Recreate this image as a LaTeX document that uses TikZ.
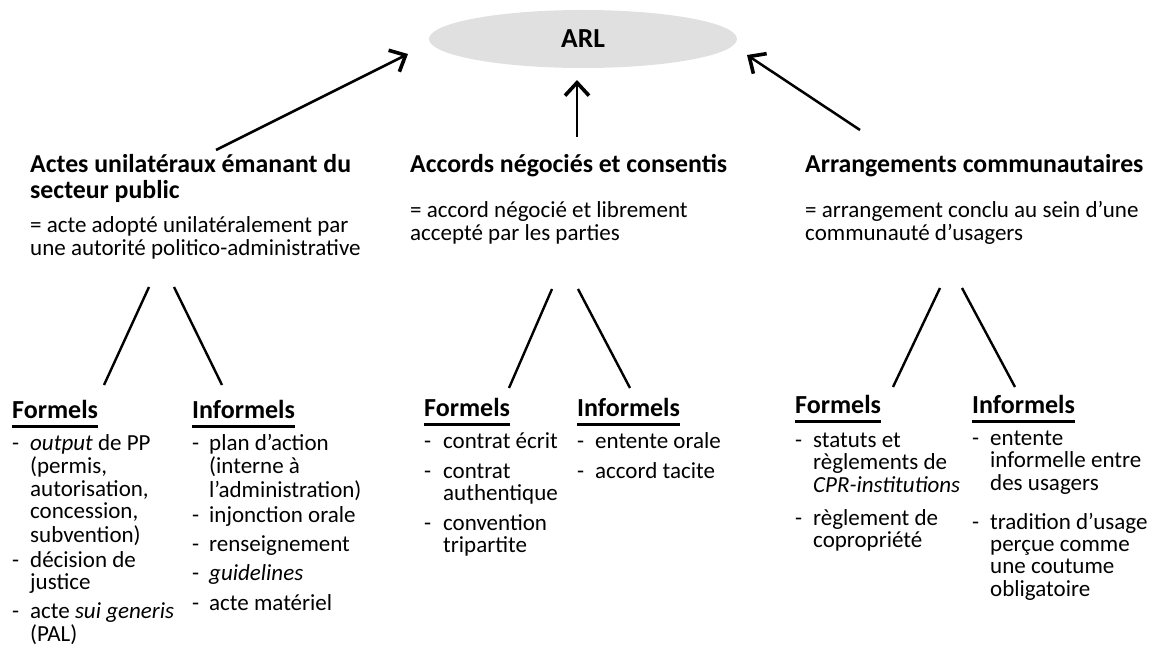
\documentclass[tikz,border=0pt]{standalone}
\usepackage{fontspec}
\setmainfont{Carlito}
\usetikzlibrary{arrows.meta,shapes.geometric}
\definecolor{arlgray}{HTML}{E0E0E0}
% left-aligned block of lines whose baseline is the first line
\newcommand\stack[1]{\begin{tabular}[t]{@{}l@{}}#1\end{tabular}}
% one list entry: name, dash x, text x, baseline y, text
\newcommand\entry[5]{%
  \node[body] (#1) at (#3,#4) {\stack{#5}};
  \node[body] (#1-d) at (#2,#4) {-};}

\begin{document}
\begin{tikzpicture}[x=1pt,y=-1pt,
  body/.style={font=\fontsize{23}{22.3}\selectfont, inner sep=0pt, anchor=base west},
  head/.style={font=\fontsize{25.8}{25}\selectfont\bfseries, inner sep=0pt, anchor=base west},
  sub/.style={font=\fontsize{26}{26}\selectfont\bfseries, inner sep=0pt, anchor=base west},
  arrowline/.style={line width=2.5pt, -{Straight Barb[length=13pt,width=24pt,line width=3.6pt]}},
  branch/.style={line width=2.4pt},
  uline/.style={line width=2.8pt}]
\useasboundingbox (0,0) rectangle (1157,660);

% central ellipse
\node[ellipse, fill=arlgray, minimum width=308pt, minimum height=58pt, inner sep=0pt,
      font=\fontsize{27.5}{27.5}\selectfont\bfseries] (arl) at (583,39) {ARL};

% three categories
\node[head] (h1) at (30,173) {\stack{Actes unilatéraux émanant du\\secteur public}};
\node[body] (d1) at (30,233) {\stack{= acte adopté unilatéralement par\\une autorité politico-administrative}};
\node[head] (h2) at (410,173) {Accords négociés et consentis};
\node[body] (d2) at (410,218) {\stack{= accord négocié et librement\\accepté par les parties}};
\node[head] (h3) at (805,173) {Arrangements communautaires};
\node[body] (d3) at (805,218) {\stack{= arrangement conclu au sein d’une\\communauté d’usagers}};

% arrows towards ARL
\coordinate (a1s) at (216,150); \coordinate (a1e) at (408,54);
\coordinate (a2s) at (577,137); \coordinate (a2e) at (577,80);
\coordinate (a3s) at (860,130); \coordinate (a3e) at (747,55);
\draw[arrowline] (a1s) -- (a1e);
\draw[arrowline] (a2s) -- (a2e);
\draw[arrowline] (a3s) -- (a3e);

% branches
\coordinate (b1a) at (149,287); \coordinate (b1b) at (104,385);
\coordinate (b1c) at (174,287); \coordinate (b1d) at (222,385);
\coordinate (b2a) at (552,289); \coordinate (b2b) at (509,388);
\coordinate (b2c) at (578,289); \coordinate (b2d) at (630,388);
\coordinate (b3a) at (940,288); \coordinate (b3b) at (893,387);
\coordinate (b3c) at (962,288); \coordinate (b3d) at (1015,387);
\draw[branch] (b1a) -- (b1b);
\draw[branch] (b1c) -- (b1d);
\draw[branch] (b2a) -- (b2b);
\draw[branch] (b2c) -- (b2d);
\draw[branch] (b3a) -- (b3b);
\draw[branch] (b3c) -- (b3d);

% sub-headings
\node[sub] (f1) at (12,418) {Formels};
\node[sub] (i1) at (192,418) {Informels};
\node[sub] (f2) at (424,416) {Formels};
\node[sub] (i2) at (577,416) {Informels};
\node[sub] (f3) at (795,413) {Formels};
\node[sub] (i3) at (972,413) {Informels};
\foreach \n in {f1,i1,f2,i2,f3,i3}
  \draw[uline] ([yshift=-8.5pt]\n.base west) -- ([yshift=-8.5pt]\n.base east);

% unilateral acts
\entry{f1a}{12}{30}{450}{\textit{output} de PP\\(permis,\\autorisation,\\concession,\\subvention)}
\entry{f1b}{12}{30}{567}{décision de\\justice}
\entry{f1c}{12}{30}{618}{acte \textit{sui generis}\\(PAL)}
\entry{i1a}{192}{209}{450}{plan d’action\\(interne à\\l’administration)}
\entry{i1b}{192}{209}{522}{injonction orale}
\entry{i1c}{192}{209}{551}{renseignement}
\entry{i1d}{192}{209}{580}{\textit{guidelines}}
\entry{i1e}{192}{209}{610}{acte matériel}

% negotiated agreements
\entry{f2a}{424}{443}{448}{contrat écrit}
\entry{f2b}{424}{443}{478}{contrat\\authentique}
\entry{f2c}{424}{443}{530}{convention\\tripartite}
\entry{i2a}{577}{595}{448}{entente orale}
\entry{i2b}{577}{595}{478}{accord tacite}

% community arrangements
\entry{f3a}{795}{813}{447}{statuts et\\règlements de\\\textit{CPR-institutions}}
\entry{f3b}{795}{813}{525}{règlement de\\copropriété}
\entry{i3a}{972}{990}{445}{entente\\informelle entre\\des usagers}
\entry{i3b}{972}{990}{529}{tradition d’usage\\perçue comme\\une coutume\\obligatoire}
\end{tikzpicture}
\end{document}
